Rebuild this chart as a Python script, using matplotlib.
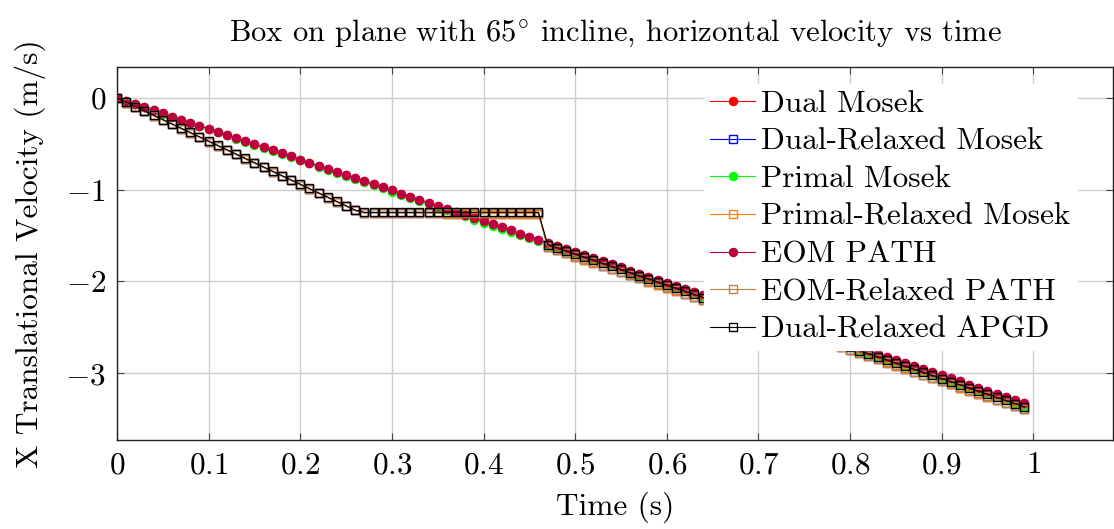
import matplotlib
matplotlib.use("Agg")
import matplotlib.pyplot as plt

# ---------------- data ----------------
time = [0.00, 0.01, 0.02, 0.03, 0.04, 0.05, 0.06, 0.07, 0.08, 0.09,
        0.10, 0.11, 0.12, 0.13, 0.14, 0.15, 0.16, 0.17, 0.18, 0.19,
        0.20, 0.21, 0.22, 0.23, 0.24, 0.25, 0.26, 0.27, 0.28, 0.29,
        0.30, 0.31, 0.32, 0.33, 0.34, 0.35, 0.36, 0.37, 0.38, 0.39,
        0.40, 0.41, 0.42, 0.43, 0.44, 0.45, 0.46, 0.47, 0.48, 0.49,
        0.50, 0.51, 0.52, 0.53, 0.54, 0.55, 0.56, 0.57, 0.58, 0.59,
        0.60, 0.61, 0.62, 0.63, 0.64, 0.65, 0.66, 0.67, 0.68, 0.69,
        0.70, 0.71, 0.72, 0.73, 0.74, 0.75, 0.76, 0.77, 0.78, 0.79,
        0.80, 0.81, 0.82, 0.83, 0.84, 0.85, 0.86, 0.87, 0.88, 0.89,
        0.90, 0.91, 0.92, 0.93, 0.94, 0.95, 0.96, 0.97, 0.98, 0.99]

# Dual Mosek and EOM PATH (coincide)
dual_mosek = [0.000, -0.034, -0.067, -0.101, -0.134, -0.168, -0.202, -0.235, -0.269, -0.302,
              -0.336, -0.370, -0.403, -0.437, -0.470, -0.504, -0.538, -0.571, -0.605, -0.638,
              -0.672, -0.706, -0.739, -0.773, -0.806, -0.840, -0.874, -0.907, -0.941, -0.974,
              -1.008, -1.042, -1.075, -1.109, -1.142, -1.176, -1.210, -1.243, -1.277, -1.310,
              -1.344, -1.378, -1.411, -1.445, -1.478, -1.512, -1.546, -1.579, -1.613, -1.646,
              -1.680, -1.714, -1.747, -1.781, -1.814, -1.848, -1.882, -1.915, -1.949, -1.982,
              -2.016, -2.050, -2.083, -2.117, -2.150, -2.184, -2.218, -2.251, -2.285, -2.318,
              -2.352, -2.386, -2.419, -2.453, -2.486, -2.520, -2.554, -2.587, -2.621, -2.654,
              -2.688, -2.722, -2.755, -2.789, -2.822, -2.856, -2.890, -2.923, -2.957, -2.990,
              -3.024, -3.058, -3.091, -3.125, -3.158, -3.192, -3.226, -3.259, -3.293, -3.326]
eom_path = list(dual_mosek)

primal_mosek = [0.000, -0.034, -0.068, -0.102, -0.136, -0.170, -0.204, -0.238, -0.272, -0.306,
                -0.340, -0.374, -0.408, -0.442, -0.476, -0.510, -0.544, -0.578, -0.612, -0.646,
                -0.680, -0.714, -0.748, -0.782, -0.816, -0.850, -0.884, -0.918, -0.952, -0.986,
                -1.020, -1.054, -1.088, -1.122, -1.156, -1.190, -1.224, -1.258, -1.292, -1.326,
                -1.360, -1.394, -1.428, -1.462, -1.496, -1.530, -1.564, -1.598, -1.632, -1.666,
                -1.700, -1.734, -1.768, -1.802, -1.836, -1.870, -1.904, -1.938, -1.972, -2.006,
                -2.040, -2.074, -2.108, -2.142, -2.176, -2.210, -2.244, -2.278, -2.312, -2.346,
                -2.380, -2.414, -2.448, -2.482, -2.516, -2.550, -2.584, -2.618, -2.652, -2.686,
                -2.720, -2.754, -2.788, -2.822, -2.856, -2.890, -2.924, -2.958, -2.992, -3.026,
                -3.060, -3.094, -3.128, -3.162, -3.196, -3.230, -3.264, -3.298, -3.332, -3.366]

dual_relaxed_apgd = [0.000, -0.047, -0.094, -0.141, -0.188, -0.235, -0.282, -0.329, -0.376, -0.423,
                     -0.470, -0.517, -0.564, -0.611, -0.658, -0.705, -0.752, -0.799, -0.846, -0.893,
                     -0.940, -0.987, -1.034, -1.081, -1.128, -1.175, -1.222, -1.247, -1.247, -1.247,
                     -1.247, -1.247, -1.247, -1.247, -1.247, -1.247, -1.247, -1.247, -1.247, -1.247,
                     -1.247, -1.247, -1.247, -1.247, -1.247, -1.247, -1.247, -1.598, -1.632, -1.666,
                     -1.700, -1.734, -1.768, -1.802, -1.836, -1.870, -1.904, -1.938, -1.972, -2.006,
                     -2.040, -2.074, -2.108, -2.142, -2.176, -2.210, -2.244, -2.278, -2.312, -2.346,
                     -2.380, -2.414, -2.448, -2.482, -2.516, -2.550, -2.584, -2.618, -2.652, -2.686,
                     -2.720, -2.754, -2.788, -2.822, -2.856, -2.890, -2.924, -2.958, -2.992, -3.026,
                     -3.060, -3.094, -3.128, -3.162, -3.196, -3.230, -3.264, -3.298, -3.332, -3.366]

# Dual-Relaxed Mosek and Primal-Relaxed Mosek (coincide)
primal_relaxed_mosek = [0.000, -0.052, -0.099, -0.146, -0.193, -0.240, -0.287, -0.334, -0.381, -0.428,
                        -0.475, -0.522, -0.569, -0.616, -0.663, -0.710, -0.757, -0.804, -0.851, -0.898,
                        -0.945, -0.992, -1.039, -1.086, -1.133, -1.180, -1.227, -1.252, -1.252, -1.252,
                        -1.252, -1.252, -1.252, -1.252, -1.252, -1.256, -1.260, -1.260, -1.260, -1.260,
                        -1.260, -1.260, -1.260, -1.260, -1.260, -1.260, -1.260, -1.628, -1.662, -1.696,
                        -1.730, -1.764, -1.798, -1.832, -1.866, -1.900, -1.934, -1.968, -2.002, -2.036,
                        -2.070, -2.104, -2.138, -2.172, -2.206, -2.240, -2.274, -2.308, -2.342, -2.376,
                        -2.410, -2.444, -2.478, -2.512, -2.546, -2.580, -2.614, -2.648, -2.682, -2.716,
                        -2.750, -2.784, -2.818, -2.852, -2.886, -2.920, -2.954, -2.988, -3.022, -3.056,
                        -3.090, -3.124, -3.158, -3.192, -3.226, -3.260, -3.294, -3.328, -3.362, -3.396]
dual_relaxed_mosek = list(primal_relaxed_mosek)

eom_relaxed_path = [0.000, -0.052, -0.099, -0.146, -0.193, -0.240, -0.287, -0.334, -0.381, -0.428,
                    -0.475, -0.522, -0.569, -0.616, -0.663, -0.710, -0.757, -0.804, -0.851, -0.898,
                    -0.945, -0.992, -1.039, -1.086, -1.133, -1.180, -1.227, -1.252, -1.252, -1.252,
                    -1.252, -1.252, -1.252, -1.252, -1.252, -1.252, -1.252, -1.250, -1.250, -1.250,
                    -1.250, -1.250, -1.250, -1.250, -1.250, -1.250, -1.250, -1.623, -1.657, -1.691,
                    -1.725, -1.759, -1.793, -1.827, -1.861, -1.895, -1.929, -1.963, -1.997, -2.031,
                    -2.065, -2.099, -2.133, -2.167, -2.201, -2.235, -2.269, -2.303, -2.337, -2.371,
                    -2.405, -2.439, -2.473, -2.507, -2.541, -2.575, -2.609, -2.643, -2.677, -2.711,
                    -2.745, -2.779, -2.813, -2.847, -2.881, -2.915, -2.949, -2.983, -3.017, -3.051,
                    -3.085, -3.119, -3.153, -3.187, -3.221, -3.255, -3.289, -3.323, -3.357, -3.391]

series_labels = ["Dual Mosek", "Dual-Relaxed Mosek", "Primal Mosek", "Primal-Relaxed Mosek",
                 "EOM PATH", "EOM-Relaxed PATH", "Dual-Relaxed APGD"]

x_ticks = [0, 0.1, 0.2, 0.3, 0.4, 0.5, 0.6, 0.7, 0.8, 0.9, 1.0]
x_tick_labels = ["$0$", "$0.1$", "$0.2$", "$0.3$", "$0.4$", "$0.5$", "$0.6$", "$0.7$",
                 "$0.8$", "$0.9$", "$1$"]
y_ticks = [-3, -2, -1, 0]
y_tick_labels = ["$-3$", "$-2$", "$-1$", "$0$"]

title_text = "Box on plane with $65^{\\circ}$ incline, horizontal velocity vs time"
x_label = "Time (s)"
y_label = "X Translational Velocity (m/s)"

# ---------------- style ----------------
plt.rcParams["font.family"] = ["cmr10", "DejaVu Serif"]
plt.rcParams["mathtext.fontset"] = "cm"
plt.rcParams["axes.formatter.use_mathtext"] = True
plt.rcParams["axes.unicode_minus"] = False

fig = plt.figure(figsize=(11.14, 5.29), dpi=100)
ax = fig.add_axes([117 / 1114, 1 - 440 / 529, 996 / 1114, 373 / 529])

series = [
    (dual_mosek, dict(color="#ff0000", marker="o", mfc="#ff0000")),
    (dual_relaxed_mosek, dict(color="#0000ff", marker="s", mfc="none")),
    (primal_mosek, dict(color="#00ff00", marker="o", mfc="#00ff00")),
    (primal_relaxed_mosek, dict(color="#ff8000", marker="s", mfc="none")),
    (eom_path, dict(color="#bf0040", marker="o", mfc="#bf0040")),
    (eom_relaxed_path, dict(color="#bf8040", marker="s", mfc="none")),
    (dual_relaxed_apgd, dict(color="#000000", marker="s", mfc="none")),
]

for (vals, st), lab in zip(series, series_labels):
    ms = 5.8 if st["marker"] == "o" else 5.2
    ax.plot(time, vals, color=st["color"], marker=st["marker"], markerfacecolor=st["mfc"],
            markeredgecolor=st["color"], markersize=ms, markeredgewidth=1.0,
            linewidth=0.8, label=lab, zorder=3)

ax.set_xlim(0, 1.087)
ax.set_ylim(-3.73, 0.338)
ax.set_xticks(x_ticks)
ax.set_xticklabels(x_tick_labels)
ax.set_yticks(y_ticks)
ax.set_yticklabels(y_tick_labels)
ax.tick_params(axis="both", which="major", labelsize=22.5, direction="in",
               top=True, right=True, length=5, width=0.8, color="#444444", pad=8)
ax.grid(True, color="#cccccc", linewidth=1.0, zorder=0)
ax.set_axisbelow(True)
for sp in ax.spines.values():
    sp.set_linewidth(1.0)
    sp.set_color("#222222")

ax.set_title(title_text, fontsize=22, pad=19)
ax.set_xlabel(x_label, fontsize=22.5, labelpad=9)
ax.set_ylabel(y_label, fontsize=22.5, labelpad=14)

leg = ax.legend(loc="upper left", bbox_to_anchor=(0.589, 0.955), fontsize=22.5,
                frameon=True, framealpha=1.0, edgecolor="white", facecolor="white",
                fancybox=False, handlelength=1.45, handletextpad=0.2, labelspacing=0.31,
                borderpad=0.2, borderaxespad=0.0)
leg.set_zorder(5)

fig.savefig("out.png", dpi=100)
